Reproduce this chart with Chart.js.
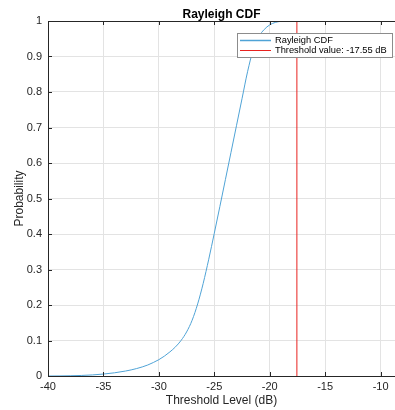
<!DOCTYPE html>
<html>
<head>
<meta charset="utf-8">
<script src="https://cdn.jsdelivr.net/npm/chart.js@4.4.1/dist/chart.umd.min.js"></script>
<style>
  html, body { margin: 0; padding: 0; background: #fff; }
  #wrap { width: 395px; height: 410px; position: relative; }
</style>
</head>
<body>
<div id="wrap"><canvas id="cdf"></canvas></div>
<script>
// Values
const thresholdDb = [-40, -39, -38, -37, -36, -35, -34, -33, -32, -31, -30.5, -30, -29.5, -29, -28.5, -28,
  -27.5, -27, -26.5, -26, -25.5, -25, -24.5, -24, -23.5, -23, -22.5, -22, -21.5, -21, -20.5, -20,
  -19.5, -19, -18.5, -18, -15, -12, -8.7];
const cdfValues = [0, 0.0002, 0.0007, 0.0015, 0.003, 0.0055, 0.009, 0.014, 0.021, 0.031, 0.038, 0.046, 0.056, 0.068, 0.082, 0.100,
  0.124, 0.157, 0.203, 0.261, 0.329, 0.402, 0.477, 0.553, 0.629, 0.705, 0.781, 0.857, 0.918, 0.955, 0.976, 0.989,
  0.996, 0.999, 1, 1, 1, 1, 1];
const thresholdValue = -17.55;
const xTicks = [-40, -35, -30, -25, -20, -15, -10];
const yTicks = [0, 0.1, 0.2, 0.3, 0.4, 0.5, 0.6, 0.7, 0.8, 0.9, 1];
const legendLabels = ['Rayleigh CDF', 'Threshold value: ' + thresholdValue.toFixed(2) + ' dB'];

const BLUE = '#4fa3d6';
const RED = '#e8221f';
const AXIS = '#262626';
const FONT = '"Liberation Sans", Arial, Helvetica, sans-serif';

// Title centred over the plot area, box top line, inward ticks, and the legend box
const matlabDecor = {
  id: 'matlabDecor',
  afterDraw(chart) {
    const { ctx, chartArea: a, scales: { x, y } } = chart;
    ctx.save();

    ctx.fillStyle = '#000';
    ctx.font = 'bold 12px ' + FONT;
    ctx.textAlign = 'center';
    ctx.textBaseline = 'alphabetic';
    ctx.fillText('Rayleigh CDF', (a.left + a.right) / 2, 17.5);

    ctx.strokeStyle = AXIS;
    ctx.lineWidth = 1;
    ctx.beginPath();
    ctx.moveTo(a.left, a.top + 0.5);
    ctx.lineTo(a.right, a.top + 0.5);
    xTicks.forEach(v => {
      const px = Math.round(x.getPixelForValue(v)) + 0.5;
      ctx.moveTo(px, a.bottom);
      ctx.lineTo(px, a.bottom - 4);
      ctx.moveTo(px, a.top);
      ctx.lineTo(px, a.top + 4);
    });
    yTicks.forEach(v => {
      const py = Math.round(y.getPixelForValue(v)) + 0.5;
      ctx.moveTo(a.left, py);
      ctx.lineTo(a.left + 4, py);
    });
    ctx.stroke();

    // legend
    const lx = 237, ly = 33, lw = 155, lh = 24;
    ctx.fillStyle = '#fff';
    ctx.fillRect(lx, ly, lw, lh);
    ctx.strokeStyle = '#8c8c8c';
    ctx.strokeRect(lx + 0.5, ly + 0.5, lw, lh);
    ctx.font = '9.3px ' + FONT;
    ctx.textAlign = 'left';
    ctx.textBaseline = 'middle';
    [BLUE, RED].forEach((c, i) => {
      const cy = ly + 7.5 + i * 10;
      ctx.strokeStyle = c;
      ctx.lineWidth = i === 0 ? 1.5 : 1;
      ctx.beginPath();
      ctx.moveTo(lx + 3, cy);
      ctx.lineTo(lx + 34, cy);
      ctx.stroke();
      ctx.fillStyle = '#000';
      ctx.fillText(legendLabels[i], lx + 38, cy);
    });
    ctx.restore();
  }
};

new Chart(document.getElementById('cdf').getContext('2d'), {
  type: 'line',
  data: {
    datasets: [
      {
        label: legendLabels[0],
        data: thresholdDb.map((v, i) => ({ x: v, y: cdfValues[i] })),
        borderColor: BLUE,
        borderWidth: 1,
        pointRadius: 0,
        cubicInterpolationMode: 'monotone',
        fill: false
      },
      {
        label: legendLabels[1],
        data: [{ x: thresholdValue, y: 0 }, { x: thresholdValue, y: 1 }],
        borderColor: RED,
        borderWidth: 1,
        pointRadius: 0,
        fill: false
      }
    ]
  },
  options: {
    responsive: true,
    maintainAspectRatio: false,
    animation: false,
    events: [],
    layout: { padding: { top: 21, right: 0, left: 0, bottom: 0 } },
    plugins: {
      legend: { display: false },
      title: { display: false },
      tooltip: { enabled: false }
    },
    scales: {
      x: {
        type: 'linear',
        min: -40,
        max: -8.7,
        afterFit: s => { s.height = 34; },
        afterBuildTicks: s => { s.ticks = xTicks.map(v => ({ value: v })); },
        ticks: {
          includeBounds: false,
          color: AXIS,
          font: { family: FONT, size: 11 },
          padding: 4,
          maxRotation: 0
        },
        grid: { color: '#e3e3e3', drawTicks: false },
        border: { color: AXIS },
        title: {
          display: true,
          text: 'Threshold Level (dB)',
          color: AXIS,
          font: { family: FONT, size: 12 },
          padding: { top: 0, bottom: 2 }
        }
      },
      y: {
        type: 'linear',
        min: 0,
        max: 1,
        afterFit: s => { s.width = 48; },
        afterBuildTicks: s => { s.ticks = yTicks.map(v => ({ value: v })); },
        ticks: {
          color: AXIS,
          font: { family: FONT, size: 11 },
          padding: 6,
          callback: v => String(Math.round(v * 10) / 10)
        },
        grid: { color: '#e3e3e3', drawTicks: false },
        border: { color: AXIS },
        title: {
          display: true,
          text: 'Probability',
          color: AXIS,
          font: { family: FONT, size: 12 },
          padding: { top: 12, bottom: 0 }
        }
      }
    }
  },
  plugins: [matlabDecor]
});
</script>
</body>
</html>
